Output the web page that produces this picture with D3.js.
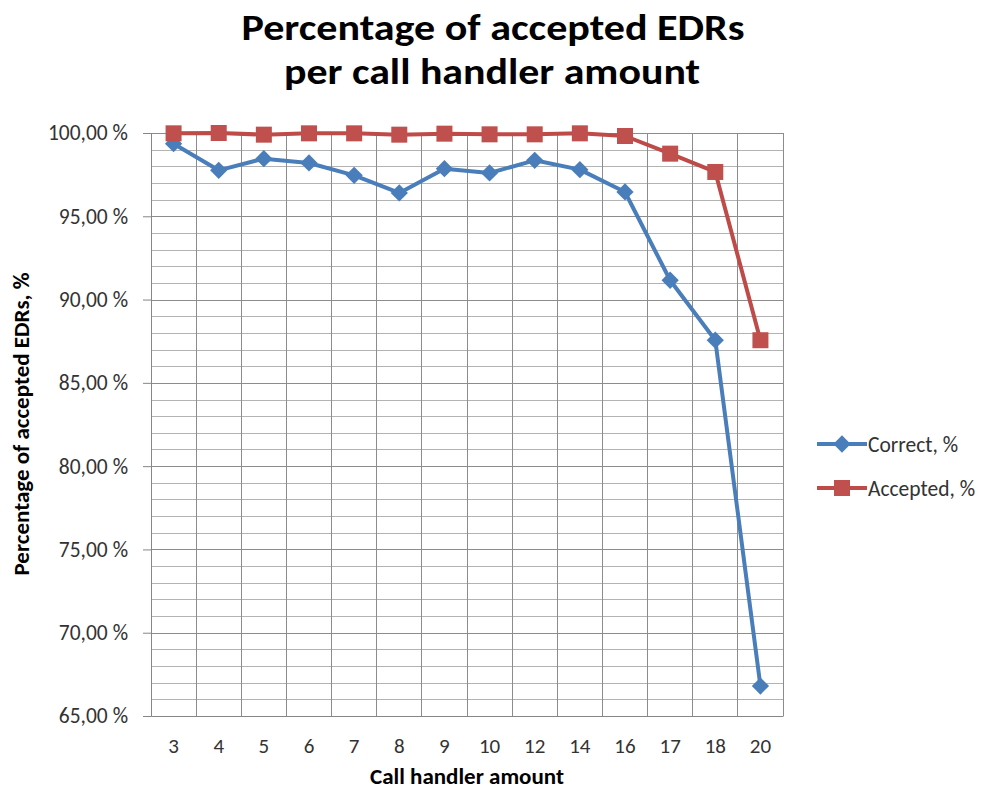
<!DOCTYPE html>
<html>
<head>
<meta charset="utf-8">
<title>Percentage of accepted EDRs</title>
<script src="https://d3js.org/d3.v7.min.js"></script>
<style>
  body { margin: 0; background: #fff; }
  text { font-family: Carlito, Calibri, Lato, "Open Sans", sans-serif; }
</style>
</head>
<body>
<div id="chart"></div>
<script>
// data
var handlers = ["3", "4", "5", "6", "7", "8", "9", "10", "12", "14", "16", "17", "18", "20"]
var correct  = [99.36, 97.76, 98.46, 98.2, 97.46, 96.4, 97.86, 97.6, 98.36, 97.8, 96.46, 91.16, 87.56, 66.8]
var accepted = [99.98, 100, 99.9, 99.98, 99.98, 99.9, 99.96, 99.92, 99.92, 99.98, 99.82, 98.76, 97.66, 87.56]
var yTicks   = [65, 70, 75, 80, 85, 90, 95, 100]
var seriesNames = ["Correct, %", "Accepted, %"]

var width = 987, height = 791
var plot = {left: 151, right: 783, top: 133, bottom: 716}

var svg = d3.select("#chart").append("svg")
    .attr("width", width)
    .attr("height", height)

var x = d3.scaleBand()
    .domain(handlers)
    .range([plot.left, plot.right])
    .padding(0)

var y = d3.scaleLinear()
    .domain([65, 100])
    .range([plot.bottom, plot.top])

// minor horizontal grid (every 1 %)
var grid = svg.append("g").attr("stroke-width", 1).attr("shape-rendering", "crispEdges")
grid.selectAll("line.h")
    .data(d3.range(66, 101, 1))
    .enter().append("line")
    .attr("x1", plot.left).attr("x2", plot.right)
    .attr("y1", d => Math.round(y(d)) + 0.5).attr("y2", d => Math.round(y(d)) + 0.5)
    .attr("stroke", d => d % 5 == 0 ? "#8c8c8c" : "#b3b3b3")

// vertical grid at category borders
grid.selectAll("line.v")
    .data(handlers.slice(1).concat(["end"]))
    .enter().append("line")
    .attr("x1", d => d == "end" ? plot.right : x(d))
    .attr("x2", d => d == "end" ? plot.right : x(d))
    .attr("y1", plot.top).attr("y2", plot.bottom)
    .attr("stroke", "#8c8c8c")

// y axis
var yAxis = svg.append("g")
    .attr("transform", "translate(" + plot.left + ",0)")
    .call(d3.axisLeft(y).tickValues(yTicks).tickSize(8).tickPadding(15)
        .tickFormat(d => d3.format(".2f")(d).replace(".", ",") + " %"))
yAxis.select(".domain").attr("stroke", "#868686")
yAxis.selectAll(".tick line").attr("stroke", "#868686")
yAxis.selectAll(".tick text")
    .attr("fill", "#333")
    .style("font-size", "21.5px")

// x axis
var xAxis = svg.append("g")
    .attr("transform", "translate(0," + plot.bottom + ")")
    .call(d3.axisBottom(x).tickSize(0).tickPadding(22))
xAxis.select(".domain").attr("stroke", "#868686")
xAxis.selectAll(".tick text")
    .attr("fill", "#333")
    .style("font-size", "21px")

// lines
var line = d3.line()
    .x((d, i) => x(handlers[i]) + x.bandwidth() / 2)
    .y(d => y(d))

svg.append("path")
    .datum(correct)
    .attr("fill", "none")
    .attr("stroke", "#4a7ebb")
    .attr("stroke-width", 4)
    .attr("stroke-linejoin", "round")
    .attr("d", line)

svg.append("path")
    .datum(accepted)
    .attr("fill", "none")
    .attr("stroke", "#be4b48")
    .attr("stroke-width", 4)
    .attr("stroke-linejoin", "round")
    .attr("d", line)

// markers
var diamond = d3.symbol().type(d3.symbolDiamond2).size(190)
svg.selectAll("path.correct")
    .data(correct)
    .enter().append("path")
    .attr("class", "correct")
    .attr("transform", (d, i) => "translate(" + (x(handlers[i]) + x.bandwidth() / 2) + "," + y(d) + ")")
    .attr("d", diamond)
    .attr("fill", "#4a7ebb")

svg.selectAll("rect.accepted")
    .data(accepted)
    .enter().append("rect")
    .attr("class", "accepted")
    .attr("x", (d, i) => x(handlers[i]) + x.bandwidth() / 2 - 8)
    .attr("y", d => y(d) - 8)
    .attr("width", 16).attr("height", 16)
    .attr("fill", "#c0504d")

// title (stretched a bit, the original font is wider)
svg.append("text")
    .attr("x", 493).attr("y", 40)
    .attr("text-anchor", "middle")
    .attr("textLength", 503).attr("lengthAdjust", "spacingAndGlyphs")
    .style("font-size", "36px").style("font-weight", "bold")
    .text("Percentage of accepted EDRs")
svg.append("text")
    .attr("x", 492).attr("y", 84)
    .attr("text-anchor", "middle")
    .attr("textLength", 416).attr("lengthAdjust", "spacingAndGlyphs")
    .style("font-size", "36px").style("font-weight", "bold")
    .text("per call handler amount")

// axis titles
svg.append("text")
    .attr("x", 467).attr("y", 784)
    .attr("text-anchor", "middle")
    .style("font-size", "23px").style("font-weight", "bold")
    .text("Call handler amount")
svg.append("text")
    .attr("transform", "translate(29,424) rotate(-90)")
    .attr("text-anchor", "middle")
    .style("font-size", "23px").style("font-weight", "bold")
    .text("Percentage of accepted EDRs, %")

// legend
var legend = svg.append("g")
var legY = [444, 488]
legend.selectAll("line")
    .data(seriesNames)
    .enter().append("line")
    .attr("x1", 817).attr("x2", 867)
    .attr("y1", (d, i) => legY[i]).attr("y2", (d, i) => legY[i])
    .attr("stroke", (d, i) => i == 0 ? "#4a7ebb" : "#be4b48")
    .attr("stroke-width", 4)
legend.append("path")
    .attr("transform", "translate(842," + legY[0] + ")")
    .attr("d", diamond)
    .attr("fill", "#4a7ebb")
legend.append("rect")
    .attr("x", 834).attr("y", legY[1] - 8)
    .attr("width", 16).attr("height", 16)
    .attr("fill", "#c0504d")
legend.selectAll("text")
    .data(seriesNames)
    .enter().append("text")
    .attr("x", 868)
    .attr("y", (d, i) => legY[i])
    .attr("dy", "0.35em")
    .attr("fill", "#333")
    .style("font-size", "21.5px")
    .text(d => d)
</script>
</body>
</html>
